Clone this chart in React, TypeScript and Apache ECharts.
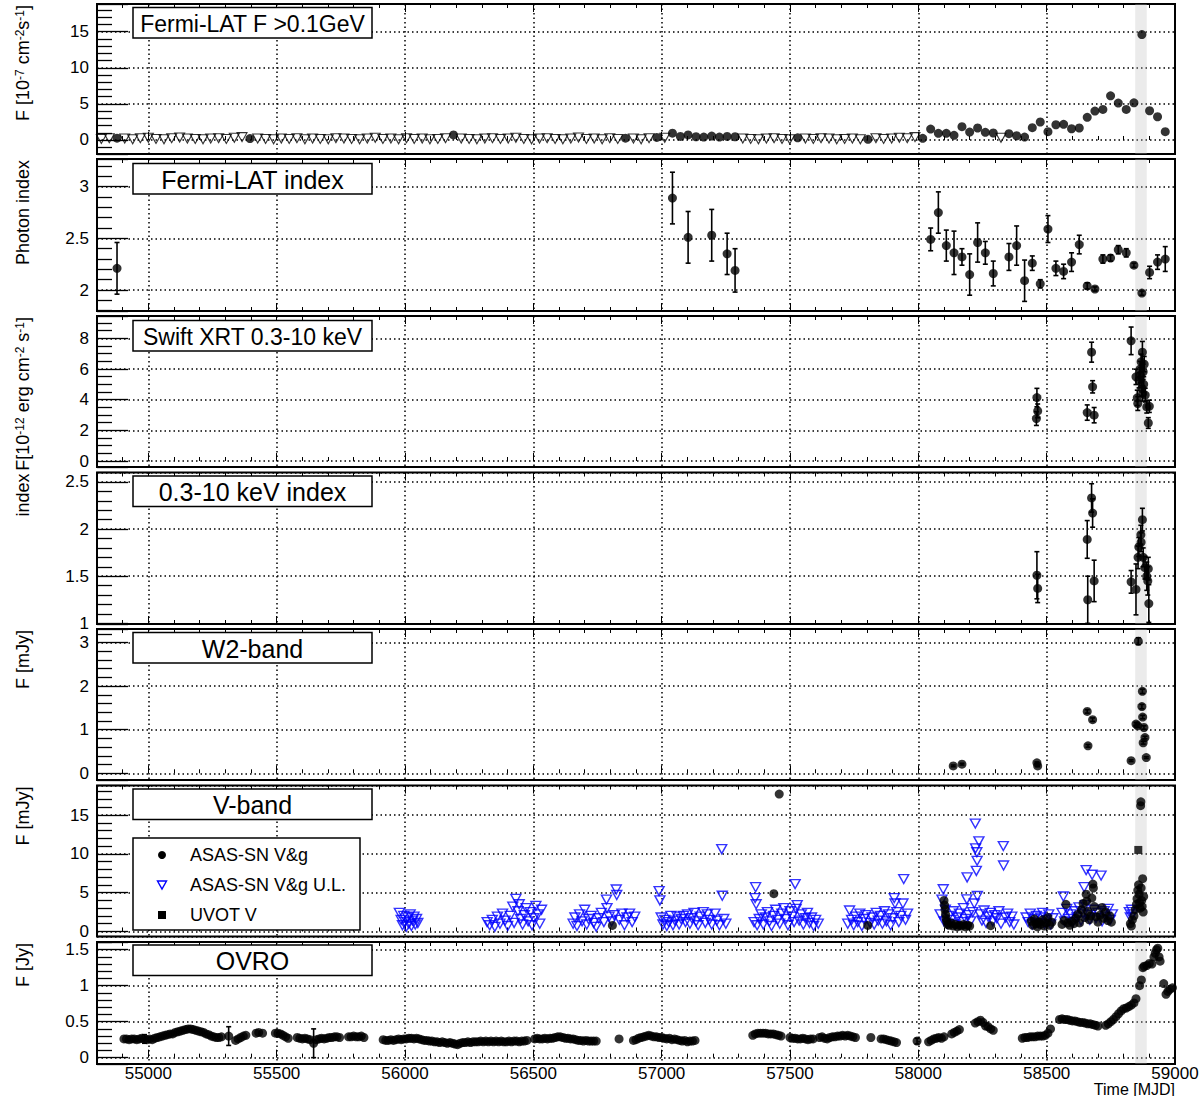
import React, { useEffect, useRef } from 'react';
import * as echarts from 'echarts';

// ---------------- data ----------------
const X_MIN = 54800;
const X_MAX = 59000;
const FLARE_BAND = [58845, 58890];

// Fermi-LAT flux (10^-7 cm^-2 s^-1): detections
const fermiDetT = [54878, 55396, 56189, 56859, 56981, 57042, 57073, 57103, 57134, 57164, 57195, 57225, 57255, 57286, 57530, 57804,
  58017, 58048, 58078, 58109, 58139, 58170, 58200, 58231, 58261, 58292,
  58353, 58383, 58414, 58444, 58475, 58505, 58536, 58566, 58597, 58627, 58658, 58688, 58719, 58749, 58779, 58810, 58840, 58871, 58901, 58932, 58962];
const fermiDetF = [0.25, 0.2, 0.7, 0.25, 0.35, 0.95, 0.5, 0.7, 0.45, 0.4, 0.55, 0.4, 0.5, 0.45, 0.3, 0.1,
  0.23, 1.52, 0.92, 0.92, 0.65, 1.84, 1.10, 1.66, 1.06, 0.97,
  0.87, 0.59, 0.41, 1.70, 2.49, 1.15, 2.11, 2.17, 1.56, 1.66, 3.14, 4.0, 4.24, 6.12, 5.11, 4.24, 5.15, 14.6, 4.05, 3.22, 1.15];
// Fermi-LAT flux upper limits
const fermiUlT = [54817, 54848, 54908, 54939, 54969, 55000, 55030, 55061, 55091, 55122, 55152, 55183, 55213, 55243, 55274, 55304, 55335, 55365,
  55426, 55457, 55488, 55518, 55549, 55579, 55610, 55640, 55670, 55701, 55731, 55762, 55792, 55823, 55853, 55884, 55914, 55945, 55975, 56006, 56036, 56067, 56097, 56128, 56158,
  56219, 56250, 56280, 56311, 56341, 56372, 56402, 56432, 56463, 56493, 56524, 56554, 56585, 56615, 56646, 56676, 56707, 56737, 56768, 56798, 56829,
  56890, 56920, 56951, 57012, 57316, 57347, 57377, 57408, 57438, 57469, 57499, 57560, 57591, 57621, 57652, 57682, 57713, 57743, 57774,
  57835, 57865, 57896, 57926, 57957, 57987, 58322];
const fermiUlF = [0.15, 0.25, 0.2, 0.1, 0.25, 0.3, 0.15, 0.1, 0.25, 0.35,
  0.2, 0.15, 0.1, 0.2, 0.25, 0.15, 0.3, 0.4, 0.2, 0.15,
  0.1, 0.2, 0.15, 0.25, 0.1, 0.2, 0.15, 0.1, 0.25, 0.2,
  0.15, 0.1, 0.2, 0.3, 0.15, 0.2, 0.1, 0.25, 0.15, 0.2,
  0.1, 0.15, 0.25, 0.2, 0.15, 0.1, 0.2, 0.25, 0.15, 0.2,
  0.3, 0.15, 0.1, 0.2, 0.25, 0.15, 0.1, 0.2, 0.35, 0.15,
  0.2, 0.1, 0.25, 0.15, 0.2, 0.1, 0.25, 0.3, 0.2, 0.15,
  0.1, 0.2, 0.25, 0.15, 0.1, 0.2, 0.15, 0.25, 0.2, 0.1,
  0.15, 0.2, 0.1, 0.25, 0.15, 0.2, 0.3, 0.25, 0.4, 0.3];

// Fermi-LAT photon index
const fermiIdxT = [54878, 57042, 57103, 57195, 57255, 57286, 58048, 58078, 58109, 58139, 58170, 58200, 58231, 58261, 58292,
  58353, 58383, 58414, 58444, 58475, 58505, 58536, 58566, 58597, 58627, 58658, 58688, 58719, 58749, 58779, 58810, 58840, 58871, 58901, 58932, 58962];
const fermiIdxV = [2.21, 2.89, 2.51, 2.53, 2.35, 2.19, 2.49, 2.75, 2.43, 2.36, 2.32, 2.15, 2.46, 2.36, 2.16,
  2.32, 2.43, 2.09, 2.26, 2.06, 2.59, 2.21, 2.18, 2.27, 2.44, 2.04, 2.01, 2.30, 2.31, 2.39, 2.36, 2.24, 1.97, 2.17, 2.27, 2.30];
const fermiIdxE = [0.25, 0.25, 0.25, 0.25, 0.2, 0.21, 0.11, 0.2, 0.15, 0.21, 0.08, 0.2, 0.19, 0.11, 0.12,
  0.13, 0.19, 0.2, 0.07, 0.04, 0.13, 0.07, 0.07, 0.09, 0.09, 0.03, 0.02, 0.04, 0.03, 0.04, 0.04, 0.02, 0.02, 0.06, 0.07, 0.12];

// Swift XRT flux (10^-12 erg cm^-2 s^-1)
const xrtT = [58460, 58462, 58465, 58658, 58675, 58679, 58685, 58829, 58848, 58853, 58855, 58860, 58864, 58866, 58868, 58871, 58873, 58874, 58876, 58878, 58880, 58884, 58890, 58896, 58900];
const xrtF = [2.77, 4.14, 3.27, 3.16, 7.1, 4.84, 2.99, 7.84, 5.49, 4.12, 3.75, 5.27, 6.0, 5.6, 6.47, 4.73, 7.1, 4.41, 5.82, 5.0, 6.32, 4.3, 3.53, 2.48, 3.57];
const xrtE = [0.45, 0.6, 0.45, 0.5, 0.65, 0.4, 0.5, 0.9, 0.5, 0.5, 0.45, 0.5, 0.5, 0.5, 0.5, 0.5, 0.7, 0.5, 0.5, 0.5, 0.5, 0.45, 0.4, 0.35, 0.4];

// Swift XRT 0.3-10 keV index
const xrtIdxT = [58462, 58465, 58658, 58660, 58675, 58679, 58685, 58829, 58848, 58856, 58859, 58867, 58868, 58873, 58876, 58883, 58890, 58894, 58896, 58898];
const xrtIdxV = [1.51, 1.37, 1.89, 1.25, 2.33, 2.17, 1.45, 1.44, 1.36, 1.70, 1.81, 1.94, 1.86, 2.10, 1.70, 1.59, 1.50, 1.45, 1.58, 1.21];
const xrtIdxE = [0.25, 0.15, 0.2, 0.25, 0.15, 0.15, 0.22, 0.12, 0.27, 0.12, 0.1, 0.1, 0.1, 0.12, 0.1, 0.12, 0.15, 0.15, 0.12, 0.2];

// UVOT W2 (mJy)
const w2T = [58136, 58170, 58462, 58465, 58658, 58661, 58679, 58829, 58848, 58855, 58857, 58871, 58873, 58874, 58876, 58879, 58883, 58888];
const w2F = [0.17, 0.21, 0.24, 0.17, 1.42, 0.63, 1.23, 0.29, 1.13, 1.09, 3.03, 1.53, 1.88, 1.29, 0.70, 1.05, 0.82, 0.36];
const w2E = [0.02, 0.02, 0.02, 0.02, 0.04, 0.03, 0.04, 0.02, 0.04, 0.04, 0.08, 0.05, 0.05, 0.04, 0.03, 0.04, 0.03, 0.02];

// ASAS-SN V&g upper limits [MJD, mJy]
const asasUpperLimits: [number, number][] = [
  [55978, 2.4], [55985, 1.5], [55990, 0.8], [55995, 2.0], [56000, 1.2], [56005, 0.6], [56010, 1.8], [56015, 1.0], [56020, 2.2], [56025, 0.7], [56030, 1.4], [56035, 1.9], [56040, 0.9], [56045, 1.6], [56050, 1.1],
  [56320, 1.2], [56330, 0.8], [56340, 1.5], [56350, 0.6], [56360, 1.9], [56370, 1.0], [56380, 2.3], [56390, 1.4], [56400, 0.7], [56410, 2.0], [56420, 3.2], [56425, 1.1], [56432, 4.2], [56440, 2.6], [56445, 3.5], [56450, 1.6], [56458, 0.9], [56465, 2.1], [56472, 3.0], [56480, 1.3], [56488, 2.5], [56495, 0.8], [56502, 1.7], [56510, 3.3], [56518, 2.2], [56525, 1.0], [56532, 2.8],
  [56655, 1.0], [56662, 1.8], [56670, 0.7], [56680, 2.2], [56690, 1.3], [56700, 2.8], [56708, 0.9], [56715, 1.6], [56725, 2.0], [56735, 1.1], [56745, 0.6], [56755, 1.7], [56765, 2.4], [56775, 1.2], [56785, 4.1], [56787, 3.0], [56795, 1.9], [56805, 1.3], [56815, 2.1], [56823, 5.4], [56825, 4.7], [56835, 1.5], [56845, 2.3], [56855, 0.8], [56865, 1.8], [56875, 2.3], [56885, 1.2], [56895, 1.9],
  [56990, 5.2], [56993, 4.0], [56998, 1.8], [57005, 0.9], [57012, 1.5], [57020, 0.7], [57028, 1.2], [57036, 2.0], [57044, 0.8], [57052, 1.4], [57060, 1.9], [57068, 0.9], [57076, 1.6], [57085, 2.0], [57093, 1.2], [57101, 2.2], [57110, 1.0], [57118, 1.7], [57126, 2.4], [57134, 1.3], [57142, 0.8], [57150, 1.9], [57162, 2.5], [57170, 1.1], [57178, 2.2], [57186, 1.5], [57195, 0.9], [57208, 2.3], [57215, 1.4], [57225, 0.8], [57234, 10.6], [57236, 4.6], [57242, 1.6], [57250, 1.0],
  [57360, 1.2], [57364, 4.3], [57366, 5.7], [57368, 3.5], [57372, 0.8], [57380, 1.6], [57388, 2.2], [57396, 0.9], [57404, 1.8], [57412, 2.5], [57420, 1.3], [57428, 0.7], [57436, 2.0], [57444, 2.8], [57452, 1.5], [57460, 1.0], [57468, 2.3], [57476, 3.0], [57484, 1.6], [57492, 0.8], [57500, 2.6], [57508, 1.9], [57516, 1.2], [57520, 6.1], [57524, 2.9], [57528, 3.4], [57536, 1.4], [57544, 2.2], [57552, 0.9], [57560, 1.7], [57568, 2.4], [57576, 1.1], [57584, 1.8], [57592, 0.7], [57600, 1.5], [57610, 1.0],
  [57725, 1.0], [57732, 2.7], [57740, 1.5], [57748, 0.8], [57756, 1.9], [57764, 1.2], [57772, 2.3], [57780, 0.7], [57788, 1.6], [57796, 2.1], [57812, 1.1], [57820, 1.8], [57828, 0.9], [57836, 2.4], [57844, 1.4], [57852, 2.0], [57860, 1.0], [57868, 2.6], [57876, 1.3], [57884, 2.2], [57892, 0.8], [57900, 1.7], [57906, 4.3], [57909, 3.6], [57916, 2.5], [57924, 1.2], [57932, 2.0], [57940, 3.6], [57943, 6.75], [57950, 1.5], [57958, 2.3],
  [58085, 2.2], [58092, 4.1], [58097, 5.44], [58100, 1.3], [58105, 2.8], [58112, 1.0], [58120, 2.0], [58128, 1.5], [58136, 2.6], [58144, 0.9], [58152, 1.8], [58160, 2.3], [58168, 1.2], [58176, 3.0], [58184, 1.6], [58189, 4.13], [58190, 6.96], [58196, 2.1], [58204, 1.3], [58212, 2.5], [58218, 3.6], [58222, 13.9], [58223, 10.7], [58226, 7.8], [58228, 10.2], [58229, 9.1], [58230, 4.57], [58236, 11.6], [58240, 2.2], [58248, 1.4], [58256, 2.7], [58264, 1.1], [58272, 1.9], [58280, 2.4], [58290, 1.3], [58298, 2.1], [58306, 1.7], [58314, 2.6], [58322, 1.0], [58331, 11.0], [58332, 8.5], [58340, 1.8], [58348, 2.3], [58356, 1.2], [58364, 1.9], [58372, 0.9],
  [58420, 1.8], [58428, 1.2], [58436, 2.3], [58444, 0.9], [58452, 1.6], [58460, 2.0], [58468, 1.1], [58476, 1.8], [58484, 2.4], [58492, 1.0], [58500, 1.5], [58508, 2.2], [58516, 0.9], [58524, 1.7], [58560, 2.4], [58565, 4.5], [58570, 1.3], [58578, 2.9], [58586, 1.6], [58594, 2.2], [58602, 1.2], [58610, 2.6], [58618, 1.8], [58626, 3.1], [58634, 1.4], [58642, 2.3], [58646, 5.7], [58650, 3.4], [58654, 7.9], [58660, 2.1], [58668, 1.5], [58677, 7.3], [58684, 2.8], [58692, 1.7], [58700, 2.4], [58712, 7.2], [58716, 1.3], [58724, 2.6], [58732, 1.9], [58740, 2.9], [58748, 1.5], [58756, 2.2],
  [58822, 2.5], [58826, 1.8], [58830, 2.8], [58834, 2.2],
];

// ASAS-SN V&g detections [MJD, mJy]
const asasDetections: [number, number][] = [
  [56808, 0.78], [57437, 4.87], [57458, 17.7], [57803, 0.78],
  [58100, 4.0], [58102, 3.4], [58104, 2.8], [58106, 2.2], [58108, 1.7], [58110, 1.3], [58114, 0.9], [58120, 0.8], [58128, 1.1], [58136, 0.7], [58144, 0.9], [58152, 0.6], [58160, 0.8], [58168, 0.7], [58176, 0.9], [58184, 0.6], [58192, 0.8], [58200, 0.7], [58282, 0.74],
  [58440, 1.3], [58446, 0.8], [58452, 1.6], [58458, 1.0], [58464, 0.6], [58470, 1.2], [58476, 0.9], [58484, 1.5], [58490, 0.7], [58498, 1.1], [58505, 1.8], [58512, 0.8], [58520, 1.2],
  [58560, 0.9], [58568, 1.4], [58575, 3.5], [58582, 1.1], [58590, 0.8], [58598, 1.3], [58606, 1.0], [58614, 1.7], [58622, 2.2], [58628, 1.1], [58636, 2.8], [58642, 3.6], [58648, 1.8], [58654, 4.8], [58656, 3.9], [58660, 2.6], [58666, 1.5], [58672, 2.0], [58676, 4.3], [58680, 6.1], [58682, 5.6], [58686, 3.2], [58692, 1.9], [58700, 1.2], [58708, 2.1], [58716, 3.1], [58722, 1.7], [58730, 2.5], [58738, 1.4], [58746, 2.0], [58752, 1.2],
  [58826, 1.0], [58830, 0.7], [58834, 1.5], [58840, 2.0], [58845, 2.8], [58850, 3.5], [58852, 4.2], [58855, 5.3], [58858, 6.0], [58860, 4.8], [58862, 3.7], [58864, 3.0], [58866, 16.2], [58867, 16.7], [58868, 5.6], [58870, 4.0], [58872, 3.2], [58874, 6.8], [58876, 2.5], [58878, 4.5],
];

// UVOT V (mJy)
const uvotV: [number, number][] = [[58857, 10.5]];

// OVRO 15 GHz (Jy)
const ovro: [number, number][] = [
  [54905, 0.26], [54915, 0.26], [54925, 0.25], [54935, 0.26], [54945, 0.26], [54955, 0.25], [54965, 0.26], [54975, 0.27], [54985, 0.26], [54995, 0.25], [55005, 0.26], [55015, 0.25], [55025, 0.27], [55035, 0.28], [55045, 0.29], [55055, 0.30], [55065, 0.31], [55075, 0.32], [55085, 0.33], [55095, 0.33], [55105, 0.35], [55115, 0.36], [55125, 0.37], [55135, 0.38], [55145, 0.39], [55155, 0.40], [55165, 0.40], [55175, 0.39], [55185, 0.38], [55195, 0.37], [55205, 0.36], [55215, 0.35], [55225, 0.33], [55235, 0.32], [55245, 0.30], [55255, 0.29], [55265, 0.28], [55275, 0.28], [55285, 0.29],
  [55313, 0.30],
  [55340, 0.24], [55350, 0.26], [55360, 0.28], [55370, 0.30], [55380, 0.31],
  [55420, 0.34], [55430, 0.35], [55445, 0.34],
  [55495, 0.34], [55505, 0.34], [55515, 0.33], [55525, 0.31], [55535, 0.29], [55545, 0.27],
  [55580, 0.28], [55590, 0.27], [55600, 0.26], [55610, 0.27], [55620, 0.26], [55630, 0.25], [55644, 0.20], [55655, 0.25], [55665, 0.26], [55675, 0.27], [55685, 0.26], [55695, 0.27], [55705, 0.28], [55715, 0.28], [55725, 0.29], [55735, 0.29], [55745, 0.28],
  [55780, 0.29], [55790, 0.29], [55800, 0.30], [55810, 0.29], [55820, 0.29], [55830, 0.30], [55840, 0.28],
  [55915, 0.25], [55925, 0.24], [55935, 0.24], [55945, 0.25], [55955, 0.24], [55965, 0.25], [55975, 0.26], [55985, 0.25], [55995, 0.26], [56005, 0.26], [56015, 0.27], [56025, 0.27], [56035, 0.26], [56045, 0.27], [56055, 0.26], [56065, 0.25], [56075, 0.24], [56085, 0.24], [56095, 0.23], [56105, 0.23], [56115, 0.22], [56125, 0.22], [56135, 0.21], [56145, 0.22], [56155, 0.21], [56165, 0.20], [56175, 0.21], [56185, 0.20], [56195, 0.19], [56205, 0.18], [56215, 0.20], [56225, 0.21], [56235, 0.21], [56245, 0.22], [56255, 0.21], [56265, 0.22], [56275, 0.22], [56285, 0.22], [56295, 0.23], [56305, 0.22], [56315, 0.23], [56325, 0.22], [56335, 0.23], [56345, 0.22], [56355, 0.23], [56365, 0.22], [56375, 0.23], [56385, 0.22], [56395, 0.22], [56405, 0.23], [56415, 0.22], [56425, 0.23], [56435, 0.23], [56445, 0.22], [56455, 0.23], [56465, 0.23], [56475, 0.24],
  [56505, 0.26], [56515, 0.27], [56525, 0.26], [56535, 0.26], [56545, 0.27], [56555, 0.26], [56565, 0.27], [56575, 0.27], [56585, 0.28], [56595, 0.29], [56605, 0.29], [56615, 0.28], [56625, 0.27], [56635, 0.27], [56645, 0.26], [56655, 0.26], [56665, 0.25], [56675, 0.24], [56685, 0.24], [56695, 0.23], [56705, 0.24], [56715, 0.23], [56725, 0.23], [56735, 0.23], [56745, 0.23],
  [56834, 0.26],
  [56890, 0.24], [56900, 0.25], [56910, 0.27], [56920, 0.28], [56930, 0.29], [56940, 0.30], [56950, 0.31], [56960, 0.30], [56970, 0.29], [56980, 0.29], [56990, 0.28], [57000, 0.28], [57010, 0.27], [57020, 0.26], [57030, 0.27], [57040, 0.25], [57050, 0.26], [57060, 0.25], [57070, 0.24], [57080, 0.23], [57090, 0.24], [57100, 0.22], [57110, 0.23], [57120, 0.23], [57130, 0.24],
  [57355, 0.31], [57365, 0.33], [57375, 0.34], [57385, 0.34], [57395, 0.34], [57405, 0.34], [57415, 0.33], [57425, 0.33], [57435, 0.33], [57445, 0.32], [57455, 0.31], [57465, 0.30],
  [57500, 0.28], [57510, 0.27], [57520, 0.27], [57530, 0.26], [57540, 0.26], [57550, 0.27], [57560, 0.26], [57570, 0.25], [57580, 0.26], [57590, 0.26],
  [57615, 0.28], [57625, 0.29], [57635, 0.27], [57645, 0.26], [57655, 0.28], [57665, 0.29], [57675, 0.29], [57685, 0.30], [57695, 0.30], [57705, 0.31], [57715, 0.30], [57725, 0.31], [57735, 0.30], [57745, 0.29], [57755, 0.28],
  [57815, 0.28],
  [57855, 0.26], [57865, 0.26], [57875, 0.25], [57885, 0.24], [57895, 0.23], [57905, 0.22], [57915, 0.21],
  [57995, 0.23],
  [58040, 0.22], [58050, 0.24], [58060, 0.26], [58070, 0.27], [58080, 0.28], [58090, 0.27], [58100, 0.29],
  [58130, 0.33], [58140, 0.35], [58150, 0.37], [58160, 0.39],
  [58222, 0.48], [58232, 0.50], [58242, 0.52], [58252, 0.49], [58262, 0.44], [58272, 0.43], [58282, 0.40], [58292, 0.38],
  [58405, 0.27], [58415, 0.28], [58425, 0.28], [58435, 0.29], [58445, 0.29], [58455, 0.29], [58465, 0.30], [58475, 0.30], [58485, 0.30], [58495, 0.31], [58505, 0.34], [58515, 0.40],
  [58550, 0.53], [58560, 0.54], [58570, 0.53], [58580, 0.53], [58590, 0.52], [58600, 0.51], [58610, 0.51], [58620, 0.50], [58630, 0.49], [58640, 0.49], [58650, 0.48], [58660, 0.47], [58670, 0.47], [58680, 0.46], [58690, 0.45], [58700, 0.44],
  [58730, 0.45], [58740, 0.47], [58750, 0.50], [58760, 0.53], [58770, 0.57], [58780, 0.61], [58790, 0.65], [58800, 0.68], [58810, 0.69], [58820, 0.71], [58830, 0.73], [58840, 0.76], [58848, 0.82],
  [58862, 1.0], [58869, 1.08], [58875, 1.25], [58880, 1.27], [58890, 1.28], [58900, 1.31], [58910, 1.30], [58918, 1.40], [58923, 1.45], [58928, 1.50], [58933, 1.52], [58938, 1.40], [58942, 1.34], [58956, 1.03], [58965, 0.88], [58972, 0.92], [58980, 0.95], [58990, 0.97],
];
const ovroErrT = [54985, 55313, 55644, 57995];
const ovroErrV = [0.26, 0.30, 0.20, 0.23];
const ovroErrE = [0.06, 0.13, 0.2, 0.04];

// ---------------- layout / style ----------------
const FONT = '"Liberation Sans", Arial, Helvetica, sans-serif';
const PLOT_LEFT = 97;
const PLOT_WIDTH = 1078;
const PANELS = [
  { top: 4, height: 150, min: -1.94, max: 18.84, split: 4, minor: 5 },
  { top: 159, height: 152, min: 1.797, max: 3.268, split: 3, minor: 5 },
  { top: 316, height: 151, min: -0.39, max: 9.46, split: 5, minor: 4 },
  { top: 472.5, height: 151.5, min: 0.993, max: 2.6, split: 3, minor: 5 },
  { top: 629, height: 151, min: -0.154, max: 3.31, split: 3, minor: 5 },
  { top: 785.5, height: 151, min: -0.65, max: 18.8, split: 4, minor: 5 },
  { top: 942, height: 122, min: -0.088, max: 1.607, split: 3, minor: 5 },
];
const BOX_TITLES = [
  { text: 'Fermi-LAT F >0.1GeV', top: 7.5, size: 23 },
  { text: 'Fermi-LAT index', top: 163.5, size: 25 },
  { text: 'Swift XRT 0.3-10 keV', top: 320.5, size: 23 },
  { text: '0.3-10 keV index', top: 476, size: 25 },
  { text: 'W2-band', top: 632.5, size: 25 },
  { text: 'V-band', top: 789, size: 25 },
  { text: 'OVRO', top: 945, size: 25 },
];
const Y_TITLES = [
  '{n|F [10}{s|-7}{n| cm}{s|-2}{n|s}{s|-1}{n|]}',
  '{n|Photon index}',
  '{n|F[10}{s|-12}{n| erg cm}{s|-2}{n| s}{s|-1}{n|]}',
  '{n|index}',
  '{n|F [mJy]}',
  '{n|F [mJy]}',
  '{n|F [Jy]}',
];
const DOT = { color: '#000', width: 1.5, type: [1.5, 3] };
const MARK = 9;

const pairs = (t: number[], v: number[]) => t.map((x, k) => [x, v[k]]).filter((p) => p[1] !== undefined);
const errRows = (t: number[], v: number[], e: number[]) => t.map((x, k) => [x, v[k] - e[k], v[k] + e[k]]);

function dots(i: number, data: any[], extra: any = {}) {
  return {
    type: 'scatter', xAxisIndex: 2 * i, yAxisIndex: i, data, symbol: 'circle', symbolSize: MARK,
    itemStyle: { color: '#000' }, silent: true, clip: true, z: 4, ...extra,
  };
}

function errorBars(i: number, data: number[][]) {
  return {
    type: 'custom', xAxisIndex: 2 * i, yAxisIndex: i, data, encode: { x: 0, y: [1, 2] },
    silent: true, clip: true, z: 3,
    renderItem: (_p: any, api: any) => {
      const x = api.value(0);
      const a = api.coord([x, api.value(2)]);
      const b = api.coord([x, api.value(1)]);
      const s = { stroke: '#000', lineWidth: 1.6 };
      return {
        type: 'group',
        children: [
          { type: 'line', shape: { x1: a[0], y1: a[1], x2: b[0], y2: b[1] }, style: s },
          { type: 'line', shape: { x1: a[0] - 2.5, y1: a[1], x2: a[0] + 2.5, y2: a[1] }, style: s },
          { type: 'line', shape: { x1: b[0] - 2.5, y1: b[1], x2: b[0] + 2.5, y2: b[1] }, style: s },
        ],
      };
    },
  };
}

function bandSeries(i: number) {
  const p = PANELS[i];
  return {
    type: 'custom', xAxisIndex: 2 * i, yAxisIndex: i, silent: true, clip: true, z: 1,
    data: [[FLARE_BAND[0], FLARE_BAND[1], p.min, p.max]], encode: { x: [0, 1], y: [2, 3] },
    renderItem: (_p: any, api: any) => {
      const a = api.coord([api.value(0), api.value(3)]);
      const b = api.coord([api.value(1), api.value(2)]);
      return {
        type: 'rect',
        shape: { x: a[0], y: a[1], width: b[0] - a[0], height: b[1] - a[1] },
        style: { fill: 'rgba(190,190,190,0.3)' },
      };
    },
  };
}

function buildOption() {
  const grid = PANELS.map((p) => ({
    left: PLOT_LEFT, width: PLOT_WIDTH, top: p.top, height: p.height,
    show: true, borderColor: '#000', borderWidth: 2, backgroundColor: 'rgba(0,0,0,0)',
    containLabel: false, outerBoundsMode: 'none',
  }));
  const xAxis: any[] = [];
  PANELS.forEach((_p, i) => {
    const common = {
      type: 'value', gridIndex: i, min: X_MIN, max: X_MAX, splitNumber: 8,
      axisLine: { show: false },
      axisTick: { show: true, inside: true, length: 8, lineStyle: { color: '#000', width: 1 } },
      minorTick: { show: true, splitNumber: 5, length: 4, lineStyle: { color: '#000', width: 1 } },
    };
    xAxis.push({
      ...common, position: 'bottom',
      splitLine: { show: true, lineStyle: DOT },
      axisLabel: i === PANELS.length - 1
        ? { show: true, color: '#000', fontSize: 17, lineHeight: 15, fontFamily: FONT, margin: 2, showMinLabel: false, formatter: (v: number) => String(v) }
        : { show: false },
    });
    xAxis.push({ ...common, position: 'top', splitLine: { show: false }, axisLabel: { show: false } });
  });
  const yAxis = PANELS.map((p, i) => ({
    type: 'value', gridIndex: i, min: p.min, max: p.max, splitNumber: p.split,
    axisLine: { show: false },
    axisTick: { show: true, inside: true, length: 31, lineStyle: { color: '#000', width: 1.3 } },
    minorTick: { show: true, splitNumber: p.minor, length: 15, lineStyle: { color: '#000', width: 1.3 } },
    splitLine: { show: true, lineStyle: DOT },
    axisLabel: {
      show: true, color: '#000', fontSize: 17, fontFamily: FONT, margin: 8,
      showMinLabel: false, showMaxLabel: false, formatter: (v: number) => String(v),
    },
  }));

  const openTri = (color: string, w: number) => ({ color: 'rgba(255,255,255,0)', borderColor: color, borderWidth: w });

  const series: any[] = [];
  PANELS.forEach((_p, i) => series.push(bandSeries(i)));
  // Panel 1: Fermi flux
  series.push(dots(0, pairs(fermiUlT, fermiUlF), { symbol: 'triangle', symbolRotate: 180, symbolSize: [10, 9], itemStyle: openTri('#000', 1.1) }));
  series.push(dots(0, pairs(fermiDetT, fermiDetF)));
  // Panel 2: Fermi index
  series.push(errorBars(1, errRows(fermiIdxT, fermiIdxV, fermiIdxE)));
  series.push(dots(1, pairs(fermiIdxT, fermiIdxV)));
  // Panel 3: XRT flux
  series.push(errorBars(2, errRows(xrtT, xrtF, xrtE)));
  series.push(dots(2, pairs(xrtT, xrtF)));
  // Panel 4: XRT index
  series.push(errorBars(3, errRows(xrtIdxT, xrtIdxV, xrtIdxE)));
  series.push(dots(3, pairs(xrtIdxT, xrtIdxV)));
  // Panel 5: W2
  series.push(errorBars(4, errRows(w2T, w2F, w2E)));
  series.push(dots(4, pairs(w2T, w2F)));
  // Panel 6: V band
  series.push(dots(5, asasUpperLimits, { symbol: 'triangle', symbolRotate: 180, symbolSize: [10, 9], itemStyle: openTri('#0000ff', 1.4), z: 3 }));
  series.push(dots(5, asasDetections));
  series.push(dots(5, uvotV, { symbol: 'rect', symbolSize: 8 }));
  // Panel 7: OVRO
  series.push(errorBars(6, errRows(ovroErrT, ovroErrV, ovroErrE)));
  series.push(dots(6, ovro));

  const graphic: any[] = [];
  BOX_TITLES.forEach((b) => {
    graphic.push({ type: 'rect', z: 100, shape: { x: 133, y: b.top, width: 239, height: 30.5 }, style: { fill: '#fff', stroke: '#000', lineWidth: 1.5 } });
    graphic.push({
      type: 'text', z: 101, x: 252.5, y: b.top + 16,
      style: { text: b.text, fill: '#000', fontSize: b.size, fontFamily: FONT, align: 'center', verticalAlign: 'middle', textAlign: 'center', textVerticalAlign: 'middle' },
    });
  });
  PANELS.forEach((p, i) => {
    graphic.push({
      type: 'text', z: 101, x: 23, y: p.top + 1, rotation: Math.PI / 2,
      style: {
        text: Y_TITLES[i], align: 'right', verticalAlign: 'middle', textAlign: 'right', textVerticalAlign: 'middle',
        rich: {
          n: { fontSize: 18, fontFamily: FONT, fill: '#000', color: '#000' },
          s: { fontSize: 12, fontFamily: FONT, fill: '#000', color: '#000', verticalAlign: 'top' },
        },
      },
    });
  });
  graphic.push({
    type: 'text', z: 101, x: 1175, y: 1096,
    style: { text: 'Time [MJD]', fill: '#000', fontSize: 16, lineHeight: 14, fontFamily: FONT, align: 'right', verticalAlign: 'bottom', textAlign: 'right', textVerticalAlign: 'bottom' },
  });
  // legend of the V-band panel
  graphic.push({ type: 'rect', z: 100, shape: { x: 133, y: 838, width: 227, height: 92 }, style: { fill: '#fff', stroke: '#000', lineWidth: 1.5 } });
  graphic.push({ type: 'circle', z: 101, shape: { cx: 162, cy: 855, r: 4 }, style: { fill: '#000' } });
  graphic.push({ type: 'polygon', z: 101, shape: { points: [[157.5, 881], [166.5, 881], [162, 889]] }, style: { fill: 'none', stroke: '#0000ff', lineWidth: 1.4 } });
  graphic.push({ type: 'rect', z: 101, shape: { x: 158, y: 911, width: 8, height: 8 }, style: { fill: '#000' } });
  [['ASAS-SN V&g', 855], ['ASAS-SN V&g U.L.', 885], ['UVOT V', 915]].forEach(([t, y]) => {
    graphic.push({
      type: 'text', z: 101, x: 190, y: y as number,
      style: { text: t as string, fill: '#000', fontSize: 18, fontFamily: FONT, align: 'left', verticalAlign: 'middle', textAlign: 'left', textVerticalAlign: 'middle' },
    });
  });

  return { animation: false, backgroundColor: '#fff', grid, xAxis, yAxis, series, graphic };
}

export default function App() {
  const ref = useRef<HTMLDivElement>(null);
  useEffect(() => {
    if (!ref.current) return;
    const chart = echarts.init(ref.current, undefined, { renderer: 'svg' });
    chart.setOption(buildOption() as any);
    return () => chart.dispose();
  }, []);
  return <div ref={ref} style={{ position: 'absolute', left: 0, top: 0, width: 1200, height: 1096, background: '#fff' }} />;
}
